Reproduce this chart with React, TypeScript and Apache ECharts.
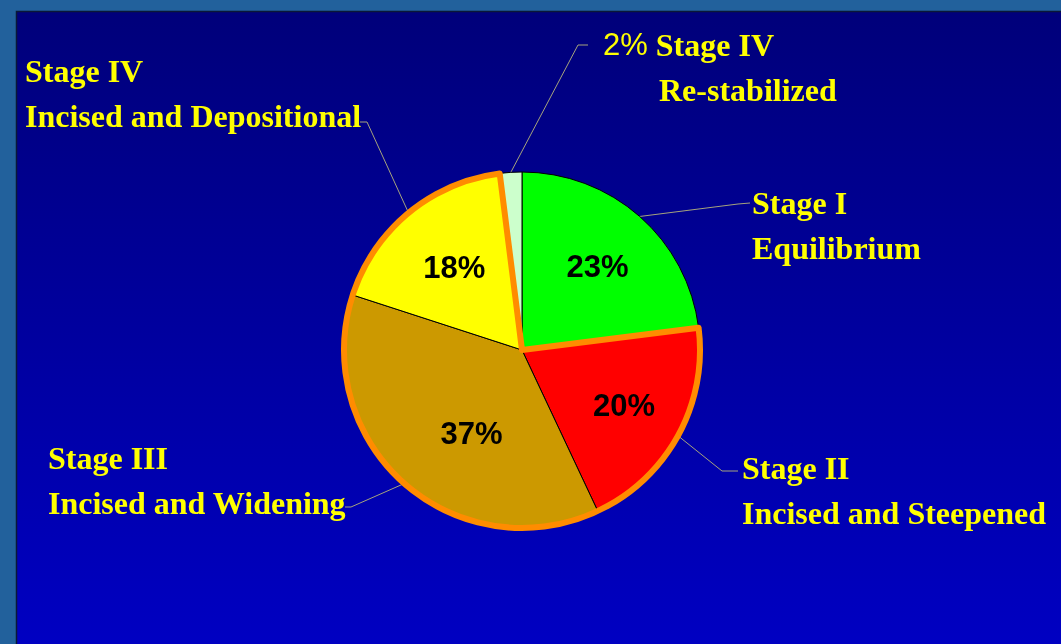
import React, { useEffect, useRef } from "react";
import * as echarts from "echarts";

// ---- data ----
const stages = ["Stage I", "Stage II", "Stage III", "Stage IV", "Stage IV"];
const descriptions = [
  "Equilibrium",
  "Incised and Steepened",
  "Incised and Widening",
  "Incised and Depositional",
  "Re-stabilized",
];
const values = [23, 20, 37, 18, 2];
const sliceColors = ["#00FF00", "#FF0000", "#CC9900", "#FFFF00", "#CCFFCC"];
// slices enclosed by the orange outline (Stage II..Stage IV Incised and Depositional)
const outlinedGroup = [1, 2, 3];

// ---- layout (positions only) ----
const CENTER = [522, 350];
const RADIUS = 178;
const labelPos = [
  { x: 752, y: 180, bend: [738, 204], end: [750, 203] },
  { x: 742, y: 445, bend: [722, 471], end: [738, 471] },
  { x: 48, y: 435, bend: [351, 507], end: [345, 507] },
  { x: 25, y: 48, bend: [367, 122], end: [360, 122] },
  { x: 603, y: 22, bend: [578, 45], end: [588, 45] },
];
const pctOffsets = [[0, 2], [2, 0], [25, -2], [5, 6], [0, 0]];

const SERIF = "'Liberation Serif', 'Times New Roman', serif";
const SANS = "'Liberation Sans', Arial, sans-serif";

export default function App() {
  const ref = useRef<HTMLDivElement>(null);

  useEffect(() => {
    if (!ref.current) return;
    const chart = echarts.init(ref.current, null, { renderer: "svg" });

    const groupStart = outlinedGroup[0];
    const groupEnd = outlinedGroup[outlinedGroup.length - 1];
    const before = values.slice(0, groupStart).reduce((a, b) => a + b, 0);
    const inGroup = values.slice(groupStart, groupEnd + 1).reduce((a, b) => a + b, 0);
    const after = values.slice(groupEnd + 1).reduce((a, b) => a + b, 0);

    const titleStyle = {
      fontFamily: SERIF,
      fontWeight: "bold" as const,
      fontSize: 32,
      lineHeight: 45,
      color: "#FFFF00",
    };

    const option: any = {
      animation: false,
      graphic: [
        {
          type: "rect",
          shape: { x: 0, y: 0, width: 1061, height: 644 },
          style: { fill: "#22619C" },
          z: -10,
          silent: true,
        },
        {
          type: "rect",
          shape: { x: 16.5, y: 11.5, width: 1060, height: 650 },
          style: {
            fill: new echarts.graphic.LinearGradient(0, 0, 0, 1, [
              { offset: 0, color: "#00007A" },
              { offset: 1, color: "#0000C4" },
            ]),
            stroke: "#0A1838",
            lineWidth: 1.5,
          },
          z: -9,
          silent: true,
        },
      ],
      series: [
        {
          name: "base",
          type: "pie",
          center: CENTER,
          radius: RADIUS,
          startAngle: 90,
          clockwise: true,
          avoidLabelOverlap: false,
          silent: true,
          z: 2,
          data: values.map((v, i) => ({
            value: v,
            name: descriptions[i],
            itemStyle: { color: sliceColors[i], borderColor: "#000000", borderWidth: 1 },
          })),
          label: {
            show: true,
            position: "outside",
            ...titleStyle,
            formatter: (p: any) => {
              const i = p.dataIndex;
              if (i === 4) {
                return `{pct|${values[i]}%} {t|${stages[i]}}\n{sp|}{t|${descriptions[i]}}`;
              }
              return `{t|${stages[i]}}\n{t|${descriptions[i]}}`;
            },
            rich: {
              t: { ...titleStyle },
              pct: {
                fontFamily: SANS,
                fontWeight: "normal",
                fontSize: 31,
                lineHeight: 45,
                color: "#FFFF00",
              },
              sp: { width: 56, lineHeight: 45 },
            },
          },
          labelLine: {
            show: true,
            length: 20,
            length2: 20,
            lineStyle: { color: "#A6A47C", width: 1 },
          },
          labelLayout: (p: any) => {
            const pos = labelPos[p.dataIndex];
            const pts = p.labelLinePoints;
            const start = pts && pts[0] ? pts[0] : pos.bend;
            return {
              x: pos.x,
              y: pos.y,
              align: "left",
              verticalAlign: "top",
              labelLinePoints: [start, pos.bend, pos.end],
            };
          },
          emphasis: { disabled: true },
        },
        {
          name: "outline",
          type: "pie",
          center: CENTER,
          radius: RADIUS,
          startAngle: 90,
          clockwise: true,
          silent: true,
          z: 3,
          label: { show: false },
          labelLine: { show: false },
          data: [
            { value: before, itemStyle: { color: "rgba(0,0,0,0)", borderWidth: 0 } },
            {
              value: inGroup,
              itemStyle: {
                color: "rgba(0,0,0,0)",
                borderColor: "#FF8C00",
                borderWidth: 6,
                borderJoin: "round",
              },
            },
            { value: after, itemStyle: { color: "rgba(0,0,0,0)", borderWidth: 0 } },
          ],
          emphasis: { disabled: true },
        },
        {
          name: "pct",
          type: "pie",
          center: CENTER,
          radius: RADIUS * 1.25,
          startAngle: 90,
          clockwise: true,
          silent: true,
          z: 4,
          avoidLabelOverlap: false,
          data: values.map((v, i) => ({
            value: v,
            itemStyle: { color: "rgba(0,0,0,0)", borderWidth: 0 },
            label: { show: i !== 4, offset: pctOffsets[i] },
          })),
          label: {
            position: "inside",
            formatter: (p: any) => `${values[p.dataIndex]}%`,
            fontFamily: SANS,
            fontWeight: "bold",
            fontSize: 31,
            color: "#000000",
          },
          labelLine: { show: false },
          emphasis: { disabled: true },
        },
      ],
    };

    chart.setOption(option);
    return () => chart.dispose();
  }, []);

  return (
    <div
      ref={ref}
      style={{ position: "fixed", left: 0, top: 0, width: 1061, height: 644 }}
    />
  );
}
